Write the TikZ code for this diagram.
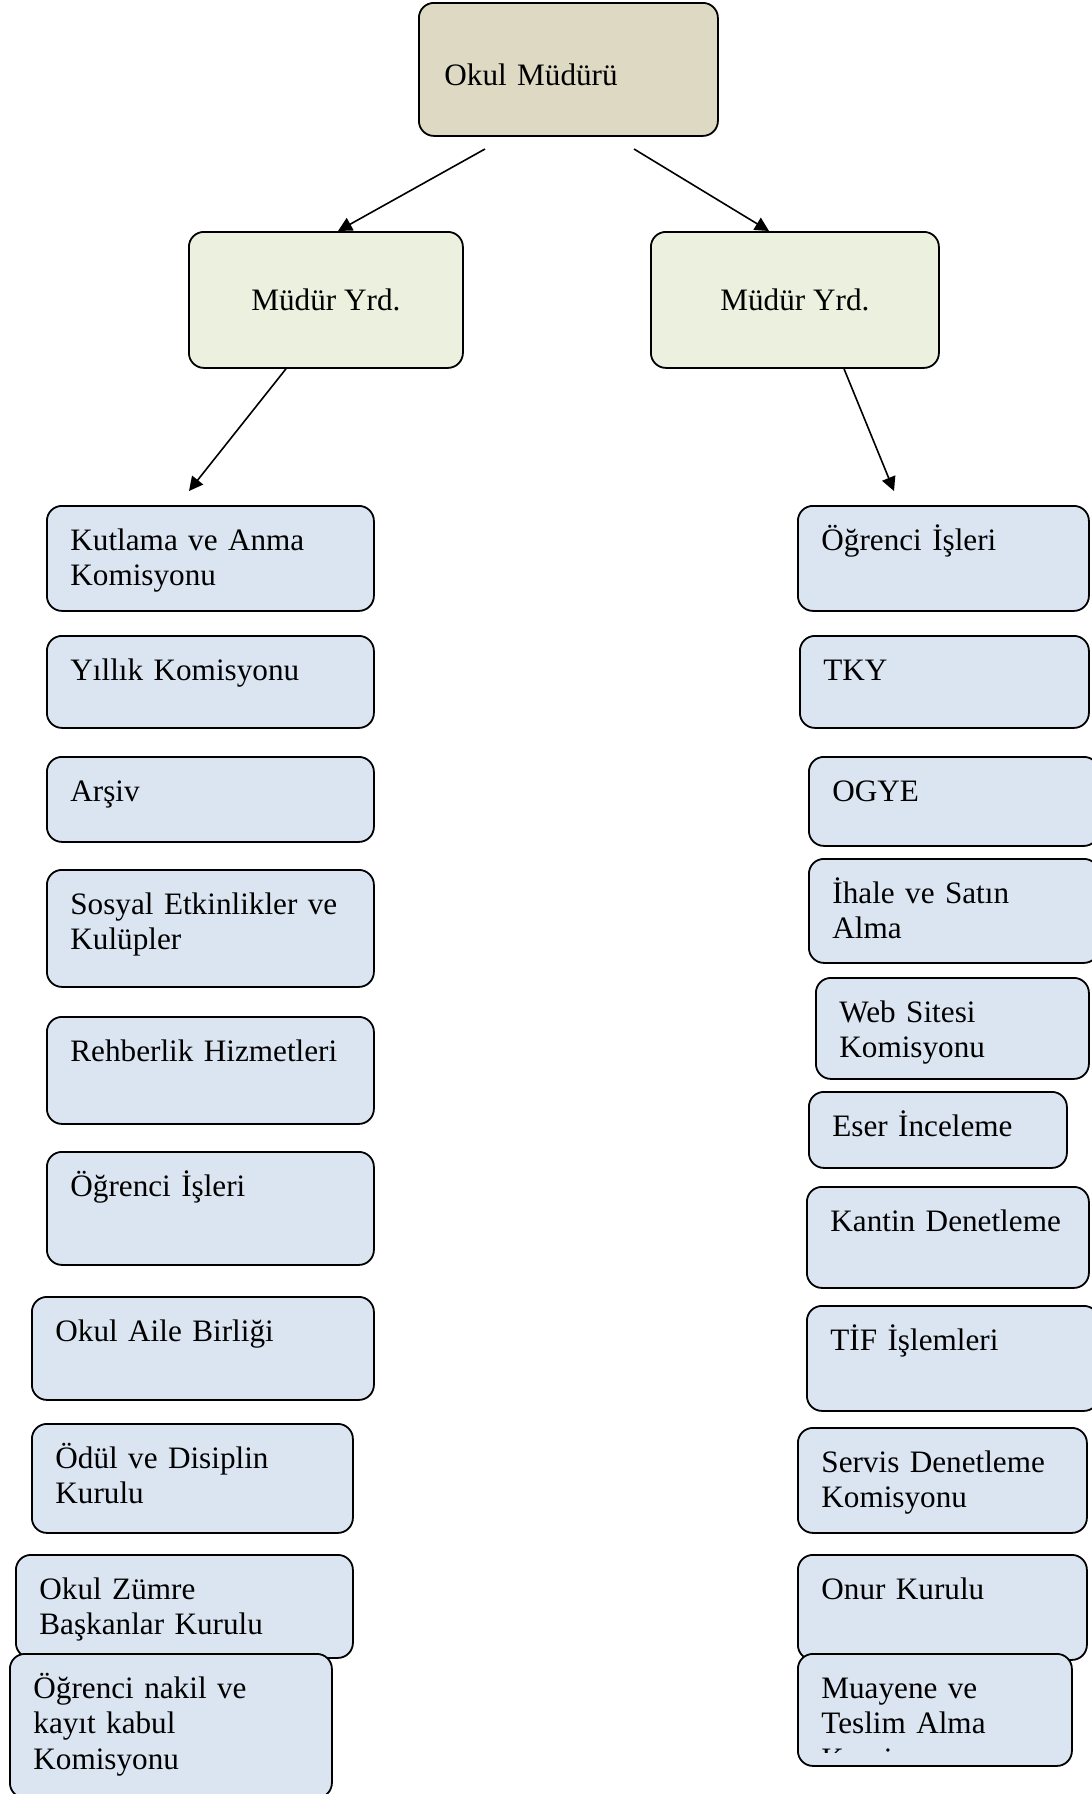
\documentclass[tikz,border=0pt]{standalone}
\usepackage{fontspec}
\setmainfont{Liberation Serif}
\usepackage{tikz}
\usetikzlibrary{arrows.meta,calc,positioning}

\definecolor{kutumavi}{HTML}{DBE5F1}
\definecolor{yesil}{HTML}{EBF1DE}
\definecolor{ten}{HTML}{DDD9C3}

\tikzset{
  kutustil/.style={draw, line width=0.9pt, rounded corners=7.5pt, fill=kutumavi, inner sep=0pt},
  yazi/.style={anchor=base west, align=left, text width=260pt, inner sep=0pt,
    font=\fontsize{15.6}{17.8}\selectfont},
  ok/.style={-{Triangle[length=7pt,width=7pt]}, line width=0.8pt}
}

% ad, x1, y1, x2, y2, metin
\newcommand{\kutu}[6]{%
  \node[kutustil, anchor=north west, minimum width={(#4-#2)*0.5pt},
    minimum height={(#5-#3)*0.5pt}] (#1) at (#2,#3) {};
  \node[yazi] (#1-yazi) at ([xshift=12pt,yshift=-22.6pt]#1.north west) {#6};
}

\begin{document}
\begin{tikzpicture}[x=0.5pt,y=-0.5pt]
\useasboundingbox (0,0) rectangle (1092,1794);

% ust kutular
\node[kutustil, fill=ten, anchor=north west, minimum width={299*0.5pt},
  minimum height={133*0.5pt}] (mudur) at (418,2) {};
\node[yazi] (mudur-yazi) at ([xshift=13pt,yshift=-41.5pt]mudur.north west) {Okul Müdürü};
\node[kutustil, fill=yesil, anchor=north west, minimum width={274*0.5pt},
  minimum height={136*0.5pt}, font=\fontsize{15.6}{17.8}\selectfont] (myrd1) at (188,231) {Müdür Yrd.};
\node[kutustil, fill=yesil, anchor=north west, minimum width={288*0.5pt},
  minimum height={136*0.5pt}, font=\fontsize{15.6}{17.8}\selectfont] (myrd2) at (650,231) {Müdür Yrd.};

% oklar
\coordinate (u1) at (485,149);
\coordinate (u2) at (634,149);
\coordinate (k1) at (189,491);
\coordinate (k2) at (894,491);
\draw[ok] (u1) -- ($(myrd1.north west)+(150,0)$);
\draw[ok] (u2) -- ($(myrd2.north west)+(119,0)$);
\draw[ok] ($(myrd1.south west)+(98,0)$) -- (k1);
\draw[ok] ($(myrd2.south west)+(194,0)$) -- (k2);

% sol sutun
\kutu{sol1}{46}{505}{373}{610}{Kutlama ve Anma\\Komisyonu}
\kutu{sol2}{46}{635}{373}{727}{Yıllık Komisyonu}
\kutu{sol3}{46}{756}{373}{841}{Arşiv}
\kutu{sol4}{46}{869}{373}{986}{Sosyal Etkinlikler ve\\Kulüpler}
\kutu{sol5}{46}{1016}{373}{1123}{Rehberlik Hizmetleri}
\kutu{sol6}{46}{1151}{373}{1264}{Öğrenci İşleri}
\kutu{sol7}{31}{1296}{373}{1399}{Okul Aile Birliği}
\kutu{sol8}{31}{1423}{352}{1532}{Ödül ve Disiplin\\Kurulu}
\kutu{sol9}{15}{1554}{352}{1657}{Okul Zümre\\Başkanlar Kurulu}
\kutu{sol10}{9}{1653}{331}{1797}{Öğrenci nakil ve\\kayıt kabul\\Komisyonu}

% sag sutun
\kutu{sag1}{797}{505}{1088}{610}{Öğrenci İşleri}
\kutu{sag2}{799}{635}{1088}{727}{TKY}
\kutu{sag3}{808}{756}{1098}{845}{OGYE}
\kutu{sag4}{808}{858}{1098}{962}{İhale ve Satın\\Alma}
\kutu{sag5}{815}{977}{1088}{1078}{Web Sitesi\\Komisyonu}
\kutu{sag6}{808}{1091}{1066}{1167}{Eser İnceleme}
\kutu{sag7}{806}{1186}{1088}{1287}{Kantin Denetleme}
\kutu{sag8}{806}{1305}{1098}{1410}{TİF İşlemleri}
\kutu{sag9}{797}{1427}{1086}{1532}{Servis Denetleme\\Komisyonu}
\kutu{sag10}{797}{1554}{1086}{1659}{Onur Kurulu}
\node[kutustil, anchor=north west, minimum width={274*0.5pt},
  minimum height={112*0.5pt}] (sag11) at (797,1653) {};
\begin{scope}
  \clip (797,1653) rectangle (1071,1752);
  \node[yazi] (sag11-yazi) at ([xshift=12pt,yshift=-22.6pt]sag11.north west)
    {Muayene ve\\Teslim Alma\\Komisyonu};
\end{scope}
\end{tikzpicture}
\end{document}
